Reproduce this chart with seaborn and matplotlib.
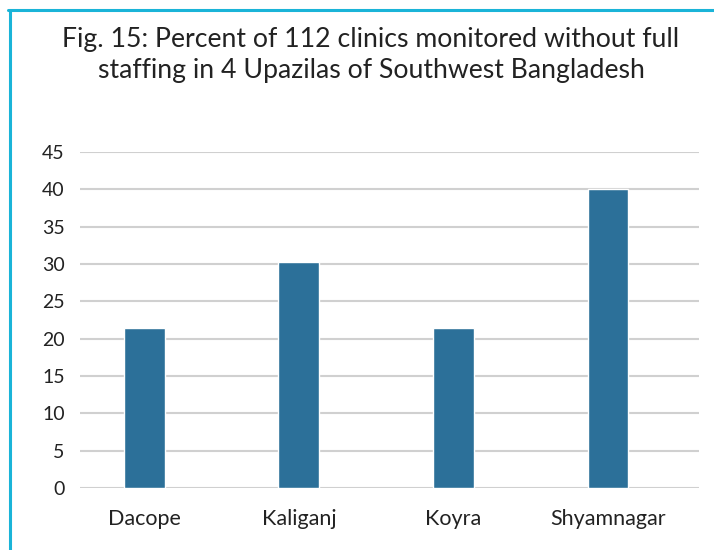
import matplotlib
matplotlib.use("Agg")
import matplotlib.pyplot as plt
import seaborn as sns
import pandas as pd
from matplotlib.lines import Line2D

categories = ["Dacope", "Kaliganj", "Koyra", "Shyamnagar"]
values = [21.4, 30.3, 21.4, 40.0]
yticks = [0, 5, 10, 15, 20, 25, 30, 35, 40, 45]
title = "Fig. 15: Percent of 112 clinics monitored without full\nstaffing in 4 Upazilas of Southwest Bangladesh"

sns.set_theme(style="white")
plt.rcParams['font.family'] = ['Lato', 'DejaVu Sans']

df = pd.DataFrame({"upazila": categories, "pct": values})

fig = plt.figure(figsize=(7.14, 5.5), dpi=100)
ax = fig.add_axes([80/714, 1-488/550, (699-80)/714, (488-152)/550])
sns.barplot(data=df, x="upazila", y="pct", color="#2C7099", width=0.265,
            saturation=1, ax=ax, zorder=3)
ax.set_ylim(0, 45)
ax.set_xlim(-0.417, 3.589)
ax.set_yticks(yticks)
ax.set_yticklabels([str(t) for t in yticks])
ax.yaxis.grid(True, color="#D0D0D0", linewidth=1.5, zorder=0)
ax.set_axisbelow(True)
for s in ax.spines.values():
    s.set_visible(False)
ax.set_xlabel("")
ax.set_ylabel("")
ax.tick_params(axis="y", length=0, pad=11, labelsize=14, labelcolor="#222222")
ax.tick_params(axis="x", length=0, pad=15, labelsize=15.5, labelcolor="#222222")

fig.text(371/714, 1-55/550, title, ha="center", va="center", fontsize=19.2,
         color="#222222", linespacing=1.3)

c = "#1AB4D8"
fig.add_artist(Line2D([8/714, 1], [1-10/550, 1-10/550], color=c, linewidth=2.2,
                      transform=fig.transFigure))
fig.add_artist(Line2D([10/714, 10/714], [0, 1-10/550], color=c, linewidth=2.2,
                      transform=fig.transFigure))

fig.savefig("out.png", dpi=100)
